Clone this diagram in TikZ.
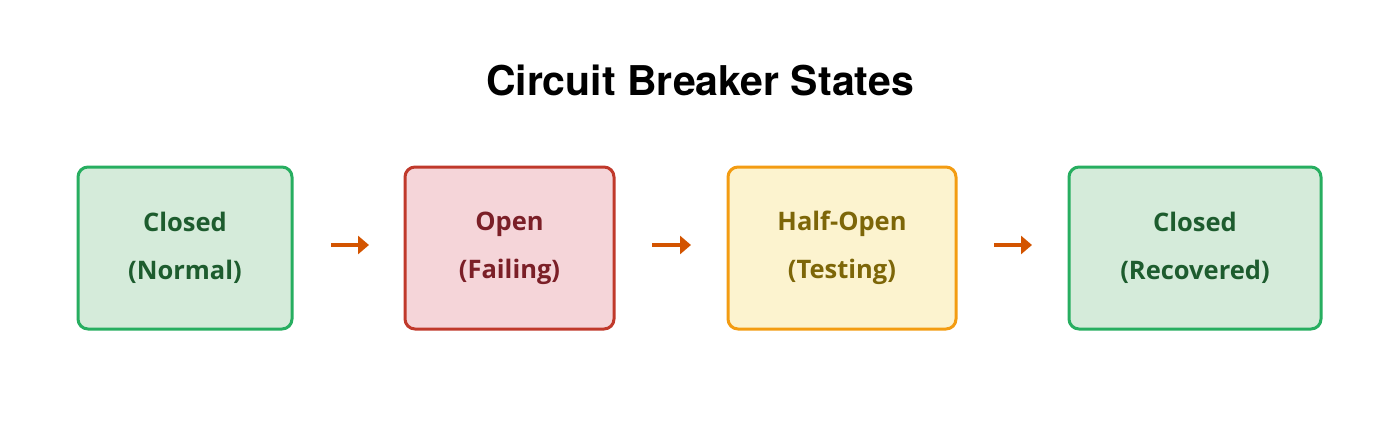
\documentclass[tikz,border=0pt]{standalone}
\usepackage{fontspec}
\setmainfont{Open Sans}
\newfontfamily\titlefont{TeX Gyre Heros}
\usetikzlibrary{arrows.meta}
\definecolor{gfill}{HTML}{D5EBDA}
\definecolor{gdraw}{HTML}{27AE60}
\definecolor{gtext}{HTML}{1D5C2E}
\definecolor{rfill}{HTML}{F5D5D9}
\definecolor{rdraw}{HTML}{C0392B}
\definecolor{rtext}{HTML}{7B1F27}
\definecolor{yfill}{HTML}{FCF3CF}
\definecolor{ydraw}{HTML}{F39C12}
\definecolor{ytext}{HTML}{7D6608}
\definecolor{arr}{HTML}{D35400}
\tikzset{
  statebox/.style={draw, line width=3pt, rounded corners=10pt, align=center,
    font=\fontsize{25.5}{48}\selectfont\bfseries, inner sep=0pt},
  flow/.style={arr, line width=3.5pt, -{Triangle[length=11pt,width=18pt]}}
}
\begin{document}
\begin{tikzpicture}[x=1pt,y=-1pt]
\useasboundingbox (0,0) rectangle (1400,434);
\node[font=\titlefont\fontsize{41}{44}\selectfont\bfseries] (title) at (700,80) {Circuit Breaker States};
\node[statebox, fill=gfill, draw=gdraw, text=gtext, minimum width=214pt, minimum height=162pt] (s1) at (185,248) {Closed\\(Normal)};
\node[statebox, fill=rfill, draw=rdraw, text=rtext, minimum width=209pt, minimum height=162pt] (s2) at (509.5,248) {Open\\(Failing)};
\node[statebox, fill=yfill, draw=ydraw, text=ytext, minimum width=228pt, minimum height=162pt] (s3) at (842,248) {Half-Open\\(Testing)};
\node[statebox, fill=gfill, draw=gdraw, text=gtext, minimum width=252pt, minimum height=162pt] (s4) at (1195,248) {Closed\\(Recovered)};
\coordinate (a1s) at (331,245); \coordinate (a1e) at (369,245);
\coordinate (a2s) at (652,245); \coordinate (a2e) at (691,245);
\coordinate (a3s) at (994,245); \coordinate (a3e) at (1032,245);
\draw[flow] (a1s) -- (a1e);
\draw[flow] (a2s) -- (a2e);
\draw[flow] (a3s) -- (a3e);
\end{tikzpicture}
\end{document}
